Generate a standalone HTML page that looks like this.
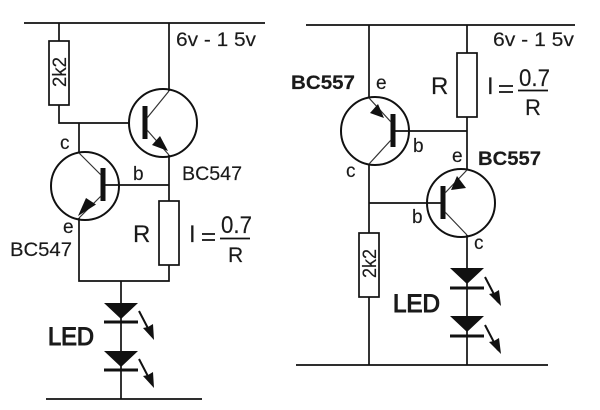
<!DOCTYPE html>
<html>
<head>
<meta charset="utf-8">
<style>
html,body{margin:0;padding:0;background:#fff;width:600px;height:410px;overflow:hidden}
svg{display:block;filter:blur(.35px)}
text{font-family:"Liberation Sans",sans-serif;fill:#1a1a1a;font-size:19px;stroke:#1a1a1a;stroke-width:.15}
.b{font-weight:700}
.led{font-size:25px;stroke-width:1.1}
.big{font-size:24px}
.w{stroke:#111;stroke-width:1.7;fill:none}
.r{stroke:#111;stroke-width:1.7;fill:#fff}
.c{stroke:#111;stroke-width:2;fill:none}
.f{fill:#111;stroke:none}
.bar{stroke:#111;stroke-width:5;fill:none}
.t{stroke:#333;stroke-width:1.2;fill:none}
.dbar{stroke:#111;stroke-width:3;fill:none}
.a{stroke:#111;stroke-width:2;fill:none}
</style>
</head>
<body>
<svg width="600" height="410" viewBox="0 0 600 410" xmlns="http://www.w3.org/2000/svg">
<!-- LEFT -->
<path class="w" d="M24 23H265M59 23V41M59 105V123H130M79 123V152M169 23V91M169 155V201M169 265V281H79V218M121 281V399M46 399H202M103 185H169" />
<rect class="r" x="49" y="41" width="20" height="64"/>
<rect class="r" x="159" y="201" width="20" height="64"/>
<circle class="c" cx="163" cy="123" r="34"/>
<circle class="c" cx="85" cy="186" r="34"/>
<path class="bar" d="M145 106V139M103 168V201"/>
<path class="t" d="M147 118L169 91M147 130L169 155M79 153L101 175M101 196L79 218"/>
<path class="f" d="M160 136L168 151L152 145Z"/>
<path class="f" d="M86 198L96 204.500L78 216Z"/>
<path class="f" d="M104 303H138L121 319Z"/>
<path class="f" d="M104 351H138L121 367Z"/>
<path class="dbar" d="M104 322H138M104 370H138"/>
<path class="a" d="M139 311L152 336M139 359L152 384"/>
<path class="f" d="M154 340L143 328L148 327L153 324Z"/>
<path class="f" d="M154 388L143 376L148 375L153 372Z"/>
<text x="176" y="46" textLength="80" lengthAdjust="spacingAndGlyphs">6v - 1 5v</text>
<text transform="translate(66 87) rotate(-90)" textLength="30" lengthAdjust="spacingAndGlyphs">2k2</text>
<text x="60" y="149">c</text>
<text x="133" y="180">b</text>
<text x="182" y="180" textLength="60" lengthAdjust="spacingAndGlyphs">BC547</text>
<text x="63" y="233">e</text>
<text x="10" y="256" textLength="62" lengthAdjust="spacingAndGlyphs">BC547</text>
<text class="big" x="133" y="242">R</text>
<text class="big" x="189" y="242">I</text>
<path class="w" d="M202 234H215M202 240H215M220 238.500H250"/>
<text class="big" x="221" y="233" textLength="31" lengthAdjust="spacingAndGlyphs">0.7</text>
<text x="228" y="262" style="font-size:21px">R</text>
<text class="led" x="48" y="345" textLength="46" lengthAdjust="spacingAndGlyphs">LED</text>
<!-- RIGHT -->
<path class="w" d="M306 25H575M369 25V98M369 164V233M369 297V365M467 25V53M467 117V170M393 131H467M369 203H443M467 235V365M296 365H548"/>
<rect class="r" x="457" y="53" width="20" height="64"/>
<rect class="r" x="359" y="233" width="20" height="64"/>
<circle class="c" cx="375" cy="131" r="34"/>
<circle class="c" cx="461" cy="203" r="34"/>
<path class="bar" d="M393 114V147M443 186V219"/>
<path class="t" d="M369 98L391 122M391 140L369 164M467 170L445 193M445 212L467 235"/>
<path class="f" d="M378 104L370 113L384 118Z"/>
<path class="f" d="M457 176L451 190L466 188Z"/>
<path class="f" d="M450 268H484L467 284Z"/>
<path class="f" d="M450 316H484L467 332Z"/>
<path class="dbar" d="M450 288H484M450 336H484"/>
<path class="a" d="M485 277L498 302M485 325L498 350"/>
<path class="f" d="M501 306L489 294L494 293L499 290Z"/>
<path class="f" d="M501 354L489 342L494 341L499 338Z"/>
<text x="493" y="46" textLength="81" lengthAdjust="spacingAndGlyphs">6v - 1 5v</text>
<text transform="translate(376 278) rotate(-90)" textLength="29" lengthAdjust="spacingAndGlyphs">2k2</text>
<text class="b" x="291" y="89" textLength="64" lengthAdjust="spacingAndGlyphs">BC557</text>
<text x="376" y="89">e</text>
<text x="413" y="152">b</text>
<text x="346" y="177">c</text>
<text x="452" y="162">e</text>
<text class="b" x="478" y="165" textLength="63" lengthAdjust="spacingAndGlyphs">BC557</text>
<text x="412" y="223">b</text>
<text x="474" y="249">c</text>
<text class="big" x="431" y="94">R</text>
<text class="big" x="487" y="94">I</text>
<path class="w" d="M499 86H513M499 92H513M518 90.500H548"/>
<text class="big" x="519" y="86" textLength="31" lengthAdjust="spacingAndGlyphs">0.7</text>
<text x="525" y="115" style="font-size:22px">R</text>
<text class="led" x="393" y="312" textLength="47" lengthAdjust="spacingAndGlyphs">LED</text>
</svg>
</body>
</html>
